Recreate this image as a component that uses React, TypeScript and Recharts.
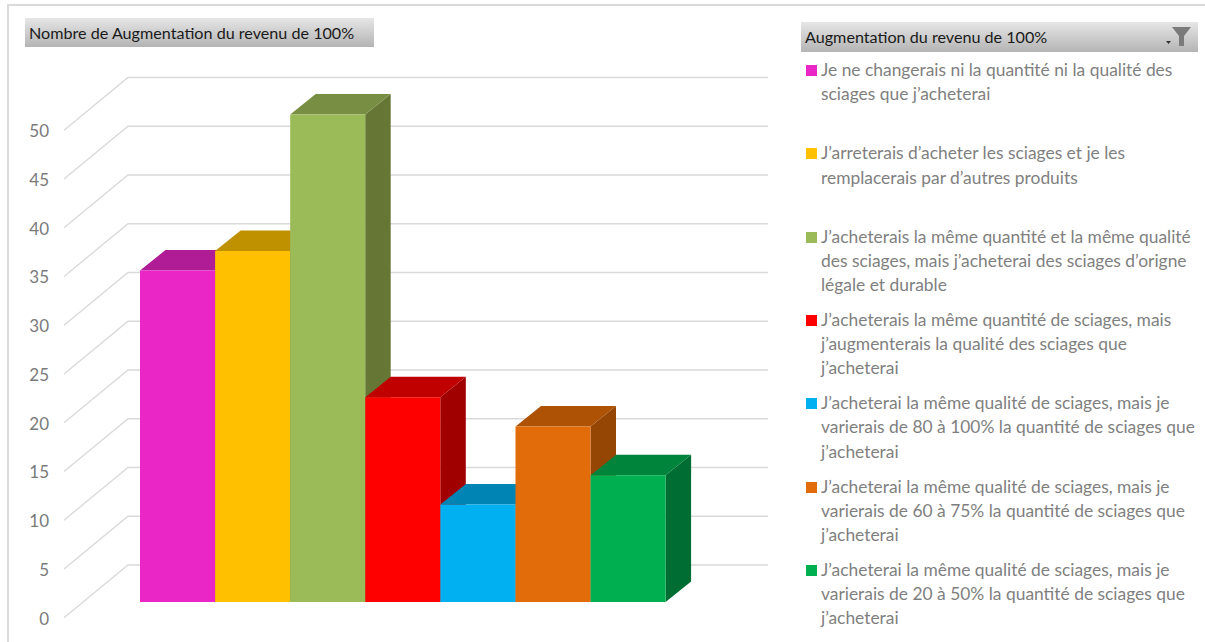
import React from "react";
import { BarChart, Bar, XAxis, YAxis, CartesianGrid } from "recharts";

const categories = [
  "Je ne changerais ni la quantité ni la qualité des\nsciages que j’acheterai",
  "J’arreterais d’acheter les sciages et je les\nremplacerais par d’autres produits",
  "J’acheterais la même quantité et la même qualité\ndes sciages, mais j’acheterai des sciages d’origne\nlégale et durable",
  "J’acheterais la même quantité de sciages, mais\nj’augmenterais la qualité des sciages que\nj’acheterai",
  "J’acheterai la même qualité de sciages, mais je\nvarierais de 80 à 100% la quantité de sciages que\nj’acheterai",
  "J’acheterai la même qualité de sciages, mais je\nvarierais de 60 à 75% la quantité de sciages que\nj’acheterai",
  "J’acheterai la même qualité de sciages, mais je\nvarierais de 20 à 50% la quantité de sciages que\nj’acheterai",
];
const values = [34, 36, 50, 21, 10, 18, 13];
const yTicks = [0, 5, 10, 15, 20, 25, 30, 35, 40, 45, 50];
const chartTitle = "Nombre de Augmentation du revenu de 100%";
const legendTitle = "Augmentation du revenu de 100%";

const frontColors = ["#EB26C6", "#FFC000", "#9BBB59", "#FF0000", "#00B0F0", "#E36C0A", "#00B050"];
const topColors = ["#B01C96", "#BF9000", "#788F43", "#C00000", "#0084B4", "#AE5205", "#00843C"];
const sideColors = ["#8F177A", "#A07800", "#667635", "#A00000", "#006E96", "#954504", "#006E32"];

const table = categories.map((name, i) => ({ name, value: values[i] }));

const FONT = "Lato, 'Noto Sans', sans-serif";
const DX = 25.5;
const DY = 20.5;

function Box3D(props: any) {
  const { x, y, width: w, height: h, index } = props;
  return (
    <g>
      <polygon
        points={`${x + w},${y} ${x + w + DX},${y - DY} ${x + w + DX},${y + h - DY} ${x + w},${y + h}`}
        fill={sideColors[index]}
      />
      <polygon
        points={`${x},${y} ${x + w},${y} ${x + w + DX},${y - DY} ${x + DX},${y - DY}`}
        fill={topColors[index]}
      />
      <rect x={x} y={y} width={w} height={h} fill={frontColors[index]} />
    </g>
  );
}

function WallLine(props: any) {
  const { y1 } = props;
  const fy = y1 + 15.7;
  const by = y1 - 37;
  return (
    <polyline
      key={y1}
      points={`64,${fy} 128,${by} 768,${by}`}
      fill="none"
      stroke="#D9D9D9"
      strokeWidth={1.3}
    />
  );
}

function ValueTick(props: any) {
  const { y, payload } = props;
  return (
    <text
      x={49}
      y={y + 16}
      textAnchor="end"
      dominantBaseline="central"
      fontFamily={FONT}
      fontSize={17}
      fill="#7A7A7A"
    >
      {payload.value}
    </text>
  );
}

const headerStyle: React.CSSProperties = {
  position: "absolute",
  background: "linear-gradient(#E6E6E6, #B4B4B4)",
  color: "#1A1A1A",
  fontFamily: FONT,
  fontSize: 16.15,
  lineHeight: "30px",
  whiteSpace: "nowrap",
  boxSizing: "border-box",
  paddingLeft: 4,
};

export default function App() {
  return (
    <div style={{ position: "absolute", left: 0, top: 0, width: 1205, height: 642, background: "#fff", overflow: "hidden" }}>
      <div style={{ position: "absolute", left: 7, top: 4, width: 1198, height: 638, borderLeft: "2px solid #DADADA", borderTop: "2px solid #DADADA", boxSizing: "border-box" }} />
      <div style={{ position: "absolute", left: 0, top: 0 }}>
        <BarChart
          width={1205}
          height={642}
          data={table}
          barCategoryGap={0}
          barGap={0}
          margin={{ top: 114.5, right: 539.3, bottom: 40, left: 0 }}
          style={{ overflow: "visible" }}
        >
          <CartesianGrid horizontal={WallLine as any} vertical={false} />
          <XAxis dataKey="name" hide />
          <YAxis
            width={140}
            domain={[0, 50]}
            ticks={yTicks}
            axisLine={false}
            tickLine={false}
            interval={0}
            tick={ValueTick as any}
          />
          <Bar dataKey="value" isAnimationActive={false} shape={Box3D as any} />
        </BarChart>
      </div>
      <div style={{ ...headerStyle, left: 25, top: 18, width: 349, height: 29 }}>{chartTitle}</div>
      <div style={{ ...headerStyle, left: 801, top: 22, width: 397, height: 30 }}>
        {legendTitle}
        <svg width={30} height={24} style={{ position: "absolute", left: 364, top: 3 }}>
          <polygon points="1,16 6,16 3.5,19" fill="#333" />
          <polygon points="7,2 26,2 19,11 19,21 14,21 14,11" fill="#7A7A7A" />
        </svg>
      </div>
      {categories.map((name, i) => (
        <div key={i}>
          <div style={{ position: "absolute", left: 806, top: 65 + i * 83.3, width: 11, height: 11, background: frontColors[i] }} />
          <div
            style={{
              position: "absolute",
              left: 821,
              top: 58 + i * 83.3,
              fontFamily: FONT,
              fontSize: 17.4,
              lineHeight: "24.3px",
              color: "#7F7F7F",
              whiteSpace: "pre",
            }}
          >
            {name}
          </div>
        </div>
      ))}
    </div>
  );
}
